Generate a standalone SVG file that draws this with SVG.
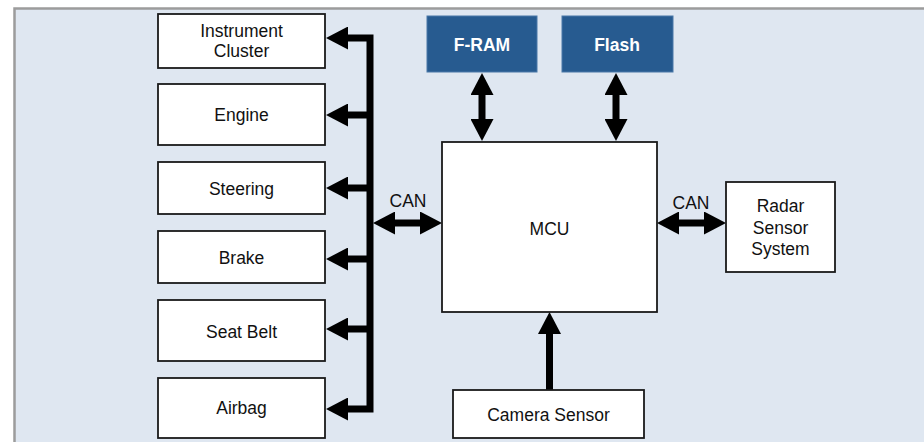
<svg xmlns="http://www.w3.org/2000/svg" width="924" height="442" viewBox="0 0 924 442">
<style>
.box{fill:#ffffff;stroke:#1a1a1a;stroke-width:1.8}
.mem{fill:#275b90;stroke:#4a78a8;stroke-width:1}
.t{font-family:"Liberation Sans",Arial,sans-serif;font-size:17.5px;fill:#111;text-anchor:middle}
.tw{font-family:"Liberation Sans",Arial,sans-serif;font-size:17.5px;font-weight:bold;fill:#ffffff;text-anchor:middle}
.bus{fill:none;stroke:#000;stroke-width:7;stroke-linejoin:miter;stroke-linecap:butt}
</style>
<defs>
<marker id="ah" viewBox="0 0 22 23" markerWidth="22" markerHeight="23" markerUnits="userSpaceOnUse" refX="1" refY="11.5" orient="auto-start-reverse">
<path d="M0,0 L22,11.5 L0,23 Z" fill="#000"/>
</marker>
</defs>
<rect x="14.5" y="8.5" width="915" height="440" fill="#dfe7f1" stroke="#9c9c9c" stroke-width="2.5"/>

<g id="connectors">
<path class="bus" d="M347,38 H370 V409 H347" marker-start="url(#ah)" marker-end="url(#ah)"/>
<line class="bus" x1="370" y1="115" x2="347" y2="115" marker-end="url(#ah)"/>
<line class="bus" x1="370" y1="188" x2="347" y2="188" marker-end="url(#ah)"/>
<line class="bus" x1="370" y1="259" x2="347" y2="259" marker-end="url(#ah)"/>
<line class="bus" x1="370" y1="329" x2="347" y2="329" marker-end="url(#ah)"/>
<line class="bus" x1="394" y1="223" x2="421" y2="223" marker-start="url(#ah)" marker-end="url(#ah)"/>
<line class="bus" x1="678" y1="223" x2="705" y2="223" marker-start="url(#ah)" marker-end="url(#ah)"/>
<line class="bus" x1="482" y1="94" x2="482" y2="120" marker-start="url(#ah)" marker-end="url(#ah)"/>
<line class="bus" x1="616" y1="94" x2="616" y2="120" marker-start="url(#ah)" marker-end="url(#ah)"/>
<line class="bus" x1="549.5" y1="390" x2="549.5" y2="333" marker-end="url(#ah)"/>
<text class="t" x="408" y="207">CAN</text>
<text class="t" x="691" y="209">CAN</text>
</g>

<g id="instrument-cluster">
<rect class="box" x="158" y="14" width="167" height="54"/>
<text class="t" x="241.5" y="37">Instrument</text>
<text class="t" x="241.5" y="57">Cluster</text>
</g>
<g id="engine">
<rect class="box" x="158" y="84" width="167" height="61"/>
<text class="t" x="241.5" y="121">Engine</text>
</g>
<g id="steering">
<rect class="box" x="158" y="162" width="167" height="52"/>
<text class="t" x="241.5" y="195">Steering</text>
</g>
<g id="brake">
<rect class="box" x="158" y="231" width="167" height="52"/>
<text class="t" x="241.5" y="263.5">Brake</text>
</g>
<g id="seat-belt">
<rect class="box" x="158" y="300" width="167" height="61"/>
<text class="t" x="241.5" y="338">Seat Belt</text>
</g>
<g id="airbag">
<rect class="box" x="158" y="378" width="167" height="60"/>
<text class="t" x="241.5" y="414">Airbag</text>
</g>
<g id="fram">
<rect class="mem" x="427" y="16" width="110" height="56"/>
<text class="tw" x="482" y="51">F-RAM</text>
</g>
<g id="flash">
<rect class="mem" x="562" y="16" width="111" height="56"/>
<text class="tw" x="617" y="51">Flash</text>
</g>
<g id="mcu">
<rect class="box" x="442" y="142" width="215" height="170"/>
<text class="t" x="549.5" y="235">MCU</text>
</g>
<g id="radar">
<rect class="box" x="726" y="182" width="109" height="90"/>
<text class="t" x="780.5" y="212">Radar</text>
<text class="t" x="780.5" y="233.5">Sensor</text>
<text class="t" x="780.5" y="254.5">System</text>
</g>
<g id="camera">
<rect class="box" x="453" y="390" width="191" height="48"/>
<text class="t" x="548.5" y="421">Camera Sensor</text>
</g>
</svg>
